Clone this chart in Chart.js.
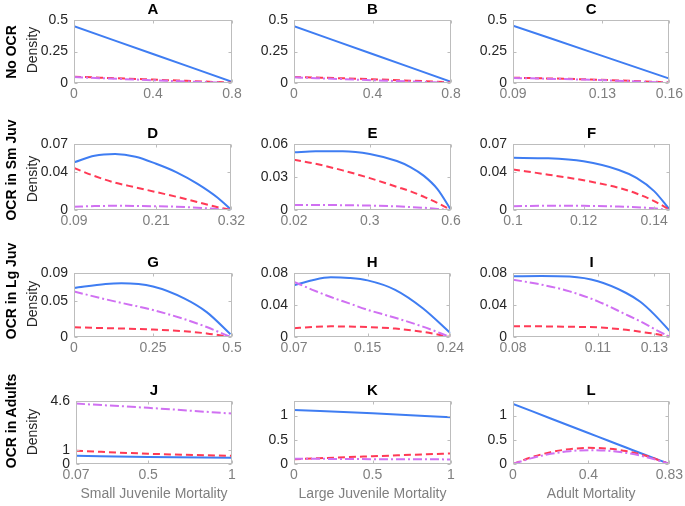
<!DOCTYPE html>
<html><head><meta charset="utf-8">
<script src="https://cdn.jsdelivr.net/npm/chart.js@4/dist/chart.umd.min.js"></script>
<style>
html,body{margin:0;padding:0;background:#fff;overflow:hidden;width:685px;height:506px;position:relative;font-family:"Liberation Sans",Arial,sans-serif;}
canvas{position:absolute;}
.rowlab{position:absolute;font-weight:bold;font-size:14px;color:#000;white-space:nowrap;transform:translate(-50%,-50%) rotate(-90deg);}
.dens{position:absolute;font-size:14px;color:#262626;white-space:nowrap;transform:translate(-50%,-50%) rotate(-90deg);}
</style></head><body>
<script>
// ---------- labels ----------
const panelTitles = ['A','B','C','D','E','F','G','H','I','J','K','L'];
const rowLabels = ['No OCR','OCR in Sm Juv','OCR in Lg Juv','OCR in Adults'];
const xAxisTitles = ['Small Juvenile Mortality','Large Juvenile Mortality','Adult Mortality'];
const yAxisTitle = 'Density';

// ---------- data ----------
// A
const xA = [0, 0.4, 0.8];
const blueA = [0.45, 0.23, 0.01];
const redA = [0.05, 0.027, 0.003];
const purpleA = [0.047, 0.022, 0.0];
const xRangeA = [0, 0.8], yRangeA = [0, 0.5];
const xTicksA = [0, 0.4, 0.8], yTicksA = [0, 0.25, 0.5];
// B
const xB = [0, 0.4, 0.8];
const blueB = [0.45, 0.23, 0.01];
const redB = [0.048, 0.03, 0.006];
const purpleB = [0.045, 0.022, 0.001];
const xRangeB = [0, 0.8], yRangeB = [0, 0.5];
const xTicksB = [0, 0.4, 0.8], yTicksB = [0, 0.25, 0.5];
// C
const xC = [0.09, 0.125, 0.16];
const blueC = [0.455, 0.245, 0.035];
const redC = [0.042, 0.028, 0.005];
const purpleC = [0.04, 0.025, 0.002];
const xRangeC = [0.09, 0.16], yRangeC = [0, 0.5];
const xTicksC = [0.09, 0.13, 0.16], yTicksC = [0, 0.25, 0.5];
// D
const xD = [0.09, 0.12, 0.15, 0.18, 0.21, 0.24, 0.27, 0.30, 0.32];
const blueD = [0.0505, 0.0575, 0.0593, 0.0565, 0.049, 0.040, 0.028, 0.013, 0];
const redD = [0.0445, 0.036, 0.029, 0.024, 0.019, 0.014, 0.0085, 0.003, 0];
const purpleD = [0.0035, 0.0042, 0.0044, 0.0043, 0.004, 0.0035, 0.0025, 0.001, 0];
const xRangeD = [0.09, 0.32], yRangeD = [0, 0.07];
const xTicksD = [0.09, 0.21, 0.32], yTicksD = [0, 0.04, 0.07];
// E
const xE = [0.02, 0.1, 0.2, 0.3, 0.4, 0.45, 0.5, 0.55, 0.6];
const blueE = [0.0524, 0.0534, 0.0535, 0.051, 0.0445, 0.039, 0.031, 0.019, 0];
const redE = [0.0457, 0.042, 0.036, 0.029, 0.021, 0.017, 0.012, 0.0065, 0];
const purpleE = [0.0046, 0.0046, 0.0044, 0.004, 0.0033, 0.0027, 0.002, 0.001, 0];
const xRangeE = [0.02, 0.6], yRangeE = [0, 0.06];
const xTicksE = [0.02, 0.3, 0.6], yTicksE = [0, 0.03, 0.06];
// F
const xF = [0.1, 0.11, 0.12, 0.13, 0.135, 0.14, 0.1445];
const blueF = [0.0553, 0.0548, 0.0516, 0.0424, 0.034, 0.020, 0];
const redF = [0.043, 0.0375, 0.0315, 0.0235, 0.0175, 0.0095, 0];
const purpleF = [0.004, 0.0045, 0.0044, 0.0037, 0.003, 0.0018, 0];
const xRangeF = [0.1, 0.1445], yRangeF = [0, 0.07];
const xTicksF = [0.1, 0.12, 0.14], yTicksF = [0, 0.04, 0.07];
// G
const xG = [0, 0.1, 0.15, 0.25, 0.35, 0.42, 0.495];
const blueG = [0.069, 0.0745, 0.0755, 0.071, 0.054, 0.035, 0.004];
const redG = [0.0136, 0.0125, 0.012, 0.0105, 0.008, 0.005, 0.0];
const purpleG = [0.064, 0.053, 0.048, 0.038, 0.025, 0.014, 0.0];
const xRangeG = [0, 0.5], yRangeG = [0, 0.09];
const xTicksG = [0, 0.25, 0.5], yTicksG = [0, 0.05, 0.09];
// H
const xH = [0.07, 0.09, 0.11, 0.13, 0.15, 0.18, 0.21, 0.24];
const blueH = [0.0646, 0.071, 0.0746, 0.0738, 0.0708, 0.059, 0.036, 0.005];
const redH = [0.011, 0.0125, 0.0133, 0.013, 0.0125, 0.0105, 0.0065, 0];
const purpleH = [0.069, 0.059, 0.050, 0.042, 0.034, 0.024, 0.013, 0];
const xRangeH = [0.07, 0.24], yRangeH = [0, 0.08];
const xTicksH = [0.07, 0.15, 0.24], yTicksH = [0, 0.04, 0.08];
// I
const xI = [0.08, 0.09, 0.1, 0.11, 0.12, 0.125, 0.13, 0.1355];
const blueI = [0.0758, 0.0762, 0.0755, 0.0696, 0.055, 0.044, 0.028, 0.007];
const redI = [0.0133, 0.0133, 0.0128, 0.012, 0.009, 0.0065, 0.004, 0.0];
const purpleI = [0.0717, 0.0655, 0.057, 0.0446, 0.028, 0.0195, 0.010, 0.0];
const xRangeI = [0.08, 0.1355], yRangeI = [0, 0.08];
const xTicksI = [0.08, 0.11, 0.13], yTicksI = [0, 0.04, 0.08];
// J
const xJ = [0.07, 0.5, 1];
const blueJ = [0.6, 0.52, 0.46];
const redJ = [0.97, 0.75, 0.6];
const purpleJ = [4.41, 4.1, 3.68];
const xRangeJ = [0.07, 1], yRangeJ = [0, 4.6];
const xTicksJ = [0.07, 0.5, 1], yTicksJ = [0, 1, 4.6];
// K
const xK = [0, 0.5, 1];
const blueK = [1.116, 1.045, 0.966];
const redK = [0.1, 0.16, 0.218];
const purpleK = [0.11, 0.1, 0.095];
const xRangeK = [0, 1], yRangeK = [0, 1.3];
const xTicksK = [0, 0.5, 1], yTicksK = [0, 0.5, 1];
// L
const xL = [0, 0.1, 0.2, 0.3, 0.4, 0.5, 0.6, 0.7, 0.83];
const blueL = [1.24, 1.09, 0.94, 0.79, 0.64, 0.49, 0.34, 0.19, 0];
const redL = [0, 0.141, 0.244, 0.307, 0.333, 0.319, 0.267, 0.176, 0];
const purpleL = [0, 0.121, 0.21, 0.264, 0.286, 0.274, 0.229, 0.151, 0];
const xRangeL = [0, 0.83], yRangeL = [0, 1.3];
const xTicksL = [0, 0.4, 0.83], yTicksL = [0, 0.5, 1];

const panelData = [
  [xA, blueA, redA, purpleA, xRangeA, yRangeA, xTicksA, yTicksA],
  [xB, blueB, redB, purpleB, xRangeB, yRangeB, xTicksB, yTicksB],
  [xC, blueC, redC, purpleC, xRangeC, yRangeC, xTicksC, yTicksC],
  [xD, blueD, redD, purpleD, xRangeD, yRangeD, xTicksD, yTicksD],
  [xE, blueE, redE, purpleE, xRangeE, yRangeE, xTicksE, yTicksE],
  [xF, blueF, redF, purpleF, xRangeF, yRangeF, xTicksF, yTicksF],
  [xG, blueG, redG, purpleG, xRangeG, yRangeG, xTicksG, yTicksG],
  [xH, blueH, redH, purpleH, xRangeH, yRangeH, xTicksH, yTicksH],
  [xI, blueI, redI, purpleI, xRangeI, yRangeI, xTicksI, yTicksI],
  [xJ, blueJ, redJ, purpleJ, xRangeJ, yRangeJ, xTicksJ, yTicksJ],
  [xK, blueK, redK, purpleK, xRangeK, yRangeK, xTicksK, yTicksK],
  [xL, blueL, redL, purpleL, xRangeL, yRangeL, xTicksL, yTicksL]
];

// ---------- layout / style ----------
const FONT = '"Liberation Sans", Arial, sans-serif';
const colX = [[74, 232], [294, 451], [513, 670]];
const rowY = [[20, 83], [144, 210], [273, 337], [401, 464]];
const COL_BLUE = '#3f7df2', COL_RED = '#ff3a55', COL_PURPLE = '#d070f2';
const LY = 60, RPAD = 16, TTL = 20;

const boxPlugin = {
  id: 'boxPlugin',
  afterDraw(chart, args, opts) {
    const {ctx, chartArea: a, scales} = chart;
    ctx.save();
    ctx.strokeStyle = '#bdbdbd';
    ctx.lineWidth = 1;
    const l = Math.round(a.left) + 0.5, t = Math.round(a.top) + 0.5;
    const r = Math.round(a.right) - 0.5, b = Math.round(a.bottom) - 0.5;
    ctx.strokeRect(l, t, r - l, b - t);
    const tl = 3;
    ctx.beginPath();
    scales.x.ticks.forEach(tk => {
      const px = Math.round(scales.x.getPixelForValue(tk.value)) + 0.5;
      ctx.moveTo(px, b); ctx.lineTo(px, b - tl);
      ctx.moveTo(px, t); ctx.lineTo(px, t + tl);
    });
    scales.y.ticks.forEach(tk => {
      const py = Math.round(scales.y.getPixelForValue(tk.value)) + 0.5;
      ctx.moveTo(l, py); ctx.lineTo(l + tl, py);
      ctx.moveTo(r, py); ctx.lineTo(r - tl, py);
    });
    ctx.stroke();
    // panel title centred over the plot area
    ctx.fillStyle = '#000';
    ctx.font = 'bold 15px ' + FONT;
    ctx.textAlign = 'center';
    ctx.textBaseline = 'middle';
    ctx.fillText(opts.text, (a.left + a.right) / 2, a.top - 10);
    ctx.restore();
  }
};

function pts(xs, ys) { return xs.map((x, i) => ({x: x, y: ys[i]})); }

panelData.forEach((p, idx) => {
  const [xs, blue, red, purple, xr, yr, xt, yt] = p;
  const row = Math.floor(idx / 3), col = idx % 3;
  let [x0, x1] = colX[col];
  if (idx === 9) x0 = 76;
  const [y0, y1] = rowY[row];
  const bottomRow = row === 3;
  const B = bottomRow ? 42 : 22;
  const W = LY + (x1 - x0) + RPAD;
  const H = TTL + (y1 - y0) + B;
  const c = document.createElement('canvas');
  c.width = W; c.height = H;
  c.style.left = (x0 - LY) + 'px';
  c.style.top = (y0 - TTL) + 'px';
  c.style.width = W + 'px'; c.style.height = H + 'px';
  document.body.appendChild(c);

  const ds = (label, ys, color, dash) => ({
    label: label, data: pts(xs, ys), borderColor: color, backgroundColor: color,
    borderWidth: 2, borderDash: dash, pointRadius: 0, fill: false,
    cubicInterpolationMode: 'monotone'
  });

  new Chart(c, {
    type: 'line',
    data: {
      datasets: [
        ds('purple', purple, COL_PURPLE, [9, 3, 2, 3]),
        ds('red', red, COL_RED, [7, 4]),
        ds('blue', blue, COL_BLUE, [])
      ]
    },
    options: {
      responsive: false, animation: false, devicePixelRatio: 1,
      layout: {padding: {left: 0, top: TTL, right: RPAD, bottom: 0}},
      plugins: {
        legend: {display: false}, tooltip: {enabled: false}, title: {display: false},
        boxPlugin: {text: panelTitles[idx]}
      },
      scales: {
        x: {
          type: 'linear', min: xr[0], max: xr[1],
          grid: {display: false, drawTicks: false}, border: {display: false},
          afterBuildTicks: s => { s.ticks = xt.map(v => ({value: v})); },
          afterFit: s => { s.height = B; },
          ticks: {autoSkip: false, maxRotation: 0, minRotation: 0, padding: 3,
                  color: '#7f7f7f', font: {family: FONT, size: 14},
                  callback: v => String(v)},
          title: {display: bottomRow, text: bottomRow ? xAxisTitles[col] : '',
                  color: '#7f7f7f', font: {family: FONT, size: 14}, padding: {top: 0, bottom: 3}}
        },
        y: {
          type: 'linear', min: yr[0], max: yr[1],
          grid: {display: false, drawTicks: false}, border: {display: false},
          afterBuildTicks: s => { s.ticks = yt.map(v => ({value: v})); },
          afterFit: s => { s.width = LY; },
          ticks: {autoSkip: false, padding: 6, color: '#262626',
                  font: {family: FONT, size: 14}, callback: v => String(v)}
        }
      }
    },
    plugins: [boxPlugin]
  });
});

// row labels and y-axis titles (left column)
const rowLabelY = [52, 170, 291, 421];
const densY = [50, 179, 304, 432];
rowLabels.forEach((t, i) => {
  const d = document.createElement('div');
  d.className = 'rowlab'; d.textContent = t;
  d.style.left = '11px'; d.style.top = rowLabelY[i] + 'px';
  document.body.appendChild(d);
  const e = document.createElement('div');
  e.className = 'dens'; e.textContent = yAxisTitle;
  e.style.left = '32px'; e.style.top = densY[i] + 'px';
  document.body.appendChild(e);
});
</script>
</body></html>
